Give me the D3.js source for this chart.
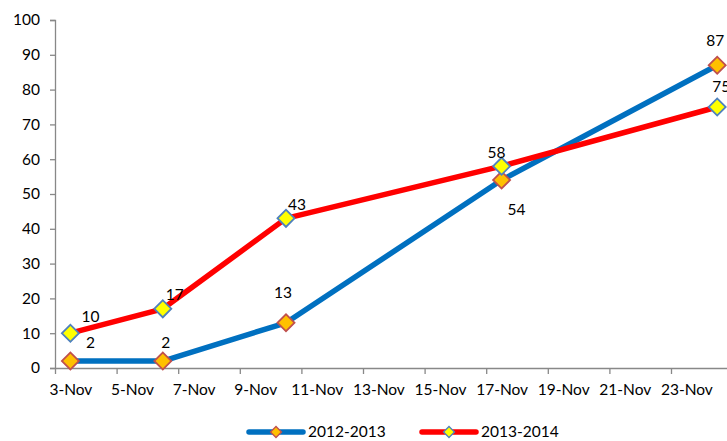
<!DOCTYPE html>
<html><head><meta charset="utf-8">
<script src="https://cdn.jsdelivr.net/npm/d3@7"></script>
<style>
html,body{margin:0;padding:0;background:#fff;}
svg text{font-family:Lato,"Open Sans",sans-serif;font-size:15.5px;fill:#000;}
</style></head>
<body>
<svg id="c" width="727" height="441"></svg>
<script>
// ---- data ----
const pointDates = ["3-Nov", "6-Nov", "10-Nov", "17-Nov", "24-Nov"];
const series2012 = [2, 2, 13, 54, 87];
const series2013 = [10, 17, 43, 58, 75];
const seriesNames = ["2012-2013", "2013-2014"];
const xTickLabels = ["3-Nov","5-Nov","7-Nov","9-Nov","11-Nov","13-Nov","15-Nov","17-Nov","19-Nov","21-Nov","23-Nov"];
const yTicks = [0, 10, 20, 30, 40, 50, 60, 70, 80, 90, 100];
// label offsets (px) relative to markers
const labelOffsets2012 = [[20,-18],[3,-18],[-3,-30],[15,29],[-2,-25]];
const labelOffsets2013 = [[20,-17],[12,-14],[11,-14],[-5,-14],[4,-20]];

const parse = d3.timeParse("%d-%b-%Y");
const toDate = s => parse(s + "-2013");
const DAY = 864e5;

const svg = d3.select("#c");
const x0 = 55, dayW = 30.8;
const start = new Date(toDate("3-Nov").getTime() - DAY/2);
const end = new Date(toDate("24-Nov").getTime() + DAY/2);
const x = d3.scaleTime().domain([start, end]).range([x0, x0 + 22*dayW]);
const y = d3.scaleLinear().domain([0, 100]).range([368, 20]);

// y axis
const yAxis = svg.append("g").attr("transform", `translate(${x0},0)`)
  .call(d3.axisLeft(y).tickValues(yTicks).tickSize(5).tickPadding(10));
yAxis.select(".domain").attr("stroke", "#888").attr("stroke-width", 1.3);
yAxis.selectAll(".tick line").attr("stroke", "#888").attr("stroke-width", 1.3);
yAxis.attr("font-size", null).attr("font-family", null);

// x axis tick marks (band edges every 2 days)
const tickEdges = xTickLabels.map(s => new Date(toDate(s).getTime() - DAY/2));
const xAxis = svg.append("g").attr("transform", `translate(0,${y(0)})`)
  .call(d3.axisBottom(x).tickValues(tickEdges).tickSize(6).tickFormat(""));
xAxis.select(".domain").attr("stroke", "#888").attr("stroke-width", 1.3)
  .attr("d", `M${x0},0.5H${x0 + 22*dayW}`);
xAxis.selectAll(".tick line").attr("stroke", "#888").attr("stroke-width", 1.3);
xAxis.attr("font-size", null).attr("font-family", null);

// x labels at date centers
const xLab = svg.append("g").attr("transform", `translate(0,${y(0)})`)
  .call(d3.axisBottom(x).tickValues(xTickLabels.map(toDate)).tickSize(0).tickPadding(16)
    .tickFormat((d, i) => xTickLabels[i]));
xLab.select(".domain").remove();
xLab.attr("font-size", null).attr("font-family", null);

const styles = [
  {line: "#0070C0", fill: "#FFC000", stroke: "#C0504D"},
  {line: "#FF0000", fill: "#FFFF00", stroke: "#4F81BD"}
];
const allSeries = [series2012, series2013];
const offsets = [labelOffsets2012, labelOffsets2013];
const dates = pointDates.map(toDate);
const line = d3.line().x(d => x(d[0])).y(d => y(d[1]));

allSeries.forEach((vals, si) => {
  const pts = dates.map((d, i) => [d, vals[i]]);
  svg.append("path").datum(pts).attr("d", line)
    .attr("fill", "none").attr("stroke", styles[si].line).attr("stroke-width", 5.5)
    .attr("stroke-linejoin", "round");
});
allSeries.forEach((vals, si) => {
  const pts = dates.map((d, i) => [d, vals[i]]);
  svg.append("g").selectAll("path").data(pts).join("path")
    .attr("d", d3.symbol().type(d3.symbolSquare).size(145))
    .attr("transform", d => `translate(${x(d[0])},${y(d[1])}) rotate(45)`)
    .attr("fill", styles[si].fill).attr("stroke", styles[si].stroke).attr("stroke-width", 1.8);
  svg.append("g").selectAll("text").data(pts).join("text")
    .attr("x", (d, i) => x(d[0]) + offsets[si][i][0])
    .attr("y", (d, i) => y(d[1]) + offsets[si][i][1])
    .attr("text-anchor", "middle").attr("dy", "0.35em")
    .text(d => d[1]);
});

// legend
const legendX = [249, 422];
seriesNames.forEach((name, si) => {
  const g = svg.append("g").attr("transform", `translate(${legendX[si]},432)`);
  g.append("line").attr("x1", 0).attr("x2", 54).attr("y1", 0).attr("y2", 0)
    .attr("stroke", styles[si].line).attr("stroke-width", 5.5).attr("stroke-linecap", "round");
  g.append("path").attr("d", d3.symbol().type(d3.symbolSquare).size(60))
    .attr("transform", "translate(27,0) rotate(45)")
    .attr("fill", styles[si].fill).attr("stroke", styles[si].stroke).attr("stroke-width", 1.3);
  g.append("text").attr("x", 59).attr("y", 0).attr("dy", "0.35em").text(name);
});
</script>
</body></html>
